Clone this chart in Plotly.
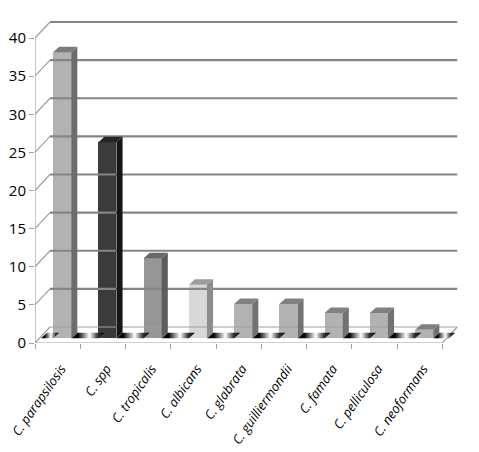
import plotly.graph_objects as go

# data
species = ["C. parapsilosis", "C. spp", "C. tropicalis", "C. albicans", "C. glabrata",
           "C. guilliermondii", "C. famata", "C. pelliculosa", "C. neoformans"]
values = [37.5, 25.7, 10.5, 7.0, 4.5, 4.5, 3.3, 3.3, 1.1]
y_ticks = [0, 5, 10, 15, 20, 25, 30, 35, 40]

front_colors = ["#b2b2b2", "#3b3b3b", "#969696", "#d8d8d8",
                "#b2b2b2", "#b2b2b2", "#b2b2b2", "#b2b2b2", "#b2b2b2"]
side_colors = ["#6c6c6c", "#171717", "#5c5c5c", "#8c8c8c",
               "#727272", "#727272", "#727272", "#727272", "#727272"]
top_colors = ["#7c7c7c", "#262626", "#6a6a6a", "#9c9c9c",
              "#808080", "#808080", "#808080", "#808080", "#808080"]

# fake 3d geometry (in data units)
WALL_DX, WALL_DY = 0.3315, 2.1      # depth of the chart box
BAR_OX, BAR_OY = 0.10, 0.63         # bar front face offset from front edge
BAR_DX, BAR_DY = 0.135, 0.72        # bar depth
BAR_W = 0.4
n = len(species)
x_end = n - 0.5 + WALL_DX
GRID = "#858585"

fig = go.Figure()


def poly(xs, ys, color):
    fig.add_trace(go.Scatter(x=xs, y=ys, fill="toself", fillcolor=color, mode="lines",
                             line=dict(width=0), hoverinfo="skip"))


def line(xs, ys, color=GRID, width=2):
    fig.add_trace(go.Scatter(x=xs, y=ys, mode="lines", line=dict(color=color, width=width),
                             hoverinfo="skip"))


# back wall + side wall gridlines
for v in y_ticks:
    line([-0.5 + WALL_DX, x_end], [v + WALL_DY, v + WALL_DY],
         GRID if v else "#a0a0a0", 2.2 if v else 1.2)
    line([-0.5, -0.5 + WALL_DX], [v, v + WALL_DY], "#a0a0a0", 1.2)

# floor outline + front wall edge
line([-0.5, n - 0.5, x_end], [0, 0, WALL_DY], "#a0a0a0", 1.2)
line([-0.5, -0.5], [0, y_ticks[-1]], "#a0a0a0", 1.2)

# floor shadow strips between bars
centers = [i + BAR_OX for i in range(n)]
edges = [-0.5 + BAR_OX * 1.3] + centers + [n - 0.5 + BAR_OX * 1.5]
for k in range(n + 1):
    xa = edges[k] + (BAR_W / 2 if k > 0 else 0)
    xb = edges[k + 1] - (BAR_W / 2 if k < n else 0)
    fig.add_trace(go.Scatter(
        x=[xa, xb, xb + BAR_DX, xa + BAR_DX, xa],
        y=[BAR_OY, BAR_OY, BAR_OY + BAR_DY, BAR_OY + BAR_DY, BAR_OY],
        fill="toself", mode="lines", line=dict(width=0), hoverinfo="skip",
        fillgradient=dict(type="horizontal",
                          colorscale=[[0, "#222"], [0.2, "#000"], [0.55, "#fff"],
                                      [0.8, "#333"], [1, "#000"]]),
    ))

# bar front faces
fig.add_trace(go.Bar(x=centers, y=values, base=BAR_OY, width=BAR_W,
                     marker=dict(color=front_colors, line=dict(width=0)),
                     hoverinfo="skip"))

# bar side and top faces
for c, v, sc, tc in zip(centers, values, side_colors, top_colors):
    xl, xr = c - BAR_W / 2, c + BAR_W / 2
    top = BAR_OY + v
    poly([xr, xr + BAR_DX, xr + BAR_DX, xr, xr],
         [BAR_OY, BAR_OY + BAR_DY, top + BAR_DY, top, BAR_OY], sc)
    poly([xl, xr, xr + BAR_DX, xl + BAR_DX, xl],
         [top, top, top + BAR_DY, top + BAR_DY, top], tc)

# the page body adds an 8px margin, so the margins are shifted by that
fig.update_layout(
    width=479, height=452,
    margin=dict(l=27, r=27, t=7, b=117),
    paper_bgcolor="white", plot_bgcolor="white",
    showlegend=False, bargap=0,
    xaxis=dict(
        range=[-0.5, -0.5 + 425 / 45.25], showgrid=False, zeroline=False, showline=False,
        automargin=False, ticklabeloverflow="allow",
        tickmode="array", tickvals=[c + 0.08 for c in range(n)], ticktext=species,
        tickangle=-55,
        # invisible major ticks just push the labels down
        ticks="outside", ticklen=12, tickcolor="rgba(0,0,0,0)",
        tickfont=dict(family="Open Sans", size=13, color="black", style="italic"),
        minor=dict(tickmode="array", tickvals=[i - 0.5 for i in range(n + 1)],
                   ticks="outside", ticklen=5, tickcolor="#a0a0a0", tickwidth=1.2),
    ),
    yaxis=dict(
        range=[0, 328 / 7.625], showgrid=False, zeroline=False, showline=False,
        automargin=False, ticklabeloverflow="allow",
        tickmode="array", tickvals=y_ticks, ticks="outside", ticklen=5,
        tickcolor="#a0a0a0", tickwidth=1.2,
        tickfont=dict(family="Open Sans", size=15, color="black"),
    ),
)

fig.write_html("out.html")
